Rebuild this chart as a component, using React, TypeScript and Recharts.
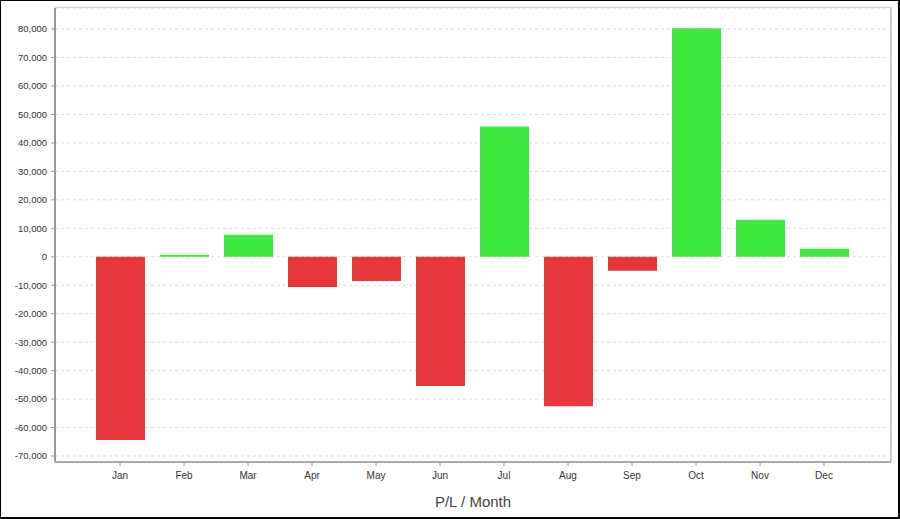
import { BarChart, Bar, XAxis, YAxis, CartesianGrid, Cell } from "recharts";

const MONTHS = ["Jan", "Feb", "Mar", "Apr", "May", "Jun", "Jul", "Aug", "Sep", "Oct", "Nov", "Dec"];
const PL_VALUES = [-64400, 700, 7700, -10600, -8500, -45400, 45800, -52500, -4900, 80300, 13000, 2800];
const Y_TICKS = [-70000, -60000, -50000, -40000, -30000, -20000, -10000, 0, 10000, 20000, 30000, 40000, 50000, 60000, 70000, 80000];

const GAIN = "#3fe93f";
const LOSS = "#e8373b";
const FONT = "'Liberation Sans', Arial, sans-serif";

const data = MONTHS.map((month, i) => ({ month, pl: PL_VALUES[i] }));

// chart margins / plot frame
const M = { top: 8, right: 9, bottom: 0, left: 0 };
const Y_W = 55;
const X_H = 57;

export default function App() {
  return (
    <div
      style={{
        position: "absolute",
        left: 0,
        top: 0,
        width: 900,
        height: 519,
        boxSizing: "border-box",
        borderStyle: "solid",
        borderColor: "#000",
        borderWidth: "1px 2px 2px 1px",
        background: "#fff",
        fontFamily: FONT,
      }}
    >
      <div style={{ position: "absolute", left: -1, top: -1 }}>
        {/* light frame around the plot area */}
        <div
          style={{
            position: "absolute",
            left: Y_W,
            top: M.top - 1,
            width: 900 - Y_W - M.right + 1,
            height: 519 - M.top - X_H + 1,
            boxSizing: "border-box",
            border: "1px solid #ccc",
            borderRightWidth: 2,
          }}
        />
        <BarChart width={900} height={519} data={data} margin={M}>
          <CartesianGrid vertical={false} strokeDasharray="3 3" stroke="#dcdcdc" />
          <XAxis
            dataKey="month"
            height={X_H}
            padding={{ left: 33, right: 35 }}
            tickSize={4}
            tickMargin={6}
            tick={{ fontSize: 10, fill: "#333", fontFamily: FONT }}
            axisLine={{ stroke: "#aaa", strokeWidth: 2 }}
            tickLine={{ stroke: "#999" }}
            label={{ value: "P/L / Month", position: "insideBottom", offset: 12, fontSize: 15, fill: "#444", fontFamily: FONT }}
          />
          <YAxis
            width={Y_W}
            domain={[-72100, 87400]}
            ticks={Y_TICKS}
            interval={0}
            tickSize={4}
            tickMargin={4}
            tickFormatter={(v: number) => v.toLocaleString("en-US")}
            tick={{ fontSize: 9.5, fill: "#333", fontFamily: FONT }}
            axisLine={{ stroke: "#999", strokeWidth: 2 }}
            tickLine={{ stroke: "#999" }}
          />
          <Bar dataKey="pl" barSize={49} isAnimationActive={false}>
            {data.map((d) => (
              <Cell key={d.month} fill={d.pl >= 0 ? GAIN : LOSS} />
            ))}
          </Bar>
        </BarChart>
      </div>
    </div>
  );
}
